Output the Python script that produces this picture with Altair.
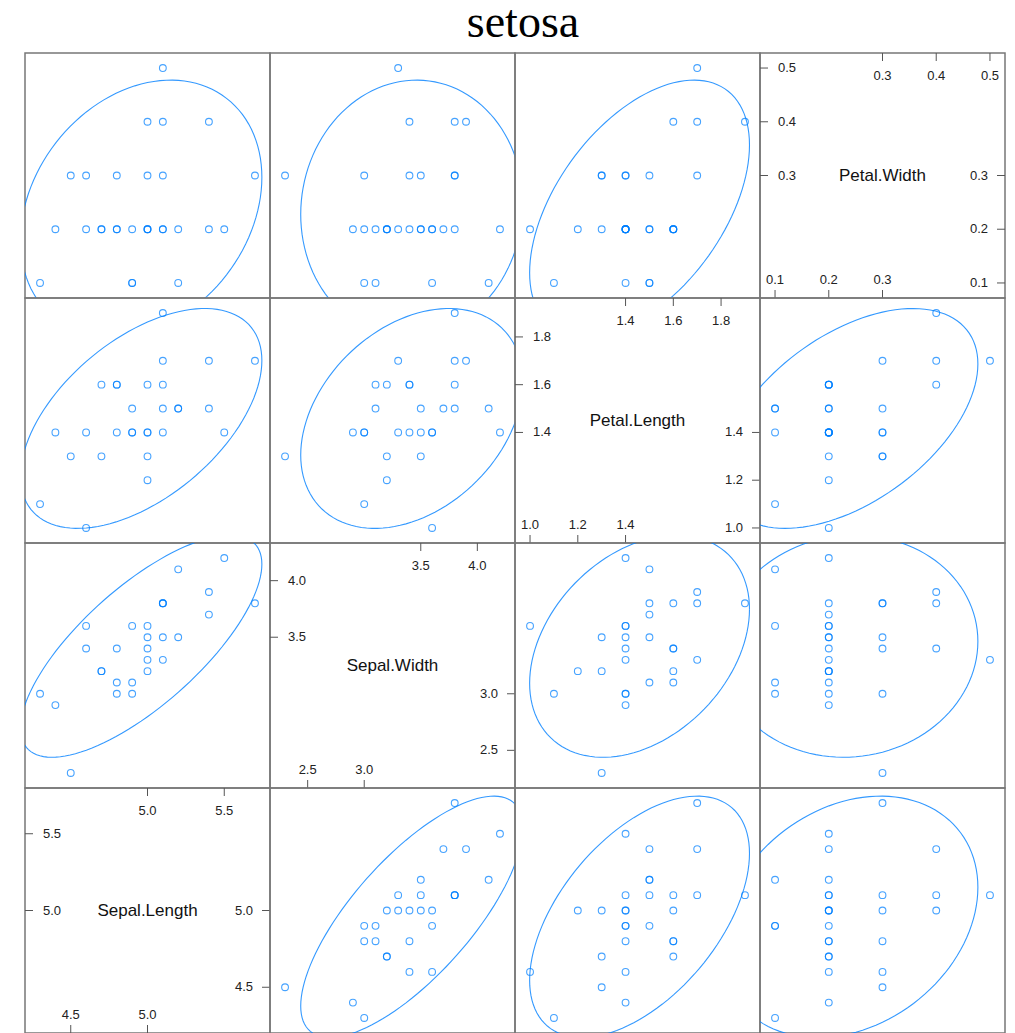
import altair as alt
import pandas as pd
import numpy as np

species = "setosa"
var_names = ["Sepal.Length", "Sepal.Width", "Petal.Length", "Petal.Width"]

sepal_length = [5.1, 4.9, 4.7, 5.0, 5.4, 4.6, 4.4, 4.9, 5.4, 4.8, 4.3, 5.7, 5.1, 4.6, 5.1,
                5.0, 5.2, 4.7, 4.8, 5.2, 5.5, 5.0, 4.9, 5.0, 4.5, 5.1, 4.8, 5.1, 5.0]
sepal_width = [3.5, 3.0, 3.2, 3.6, 3.9, 3.4, 2.9, 3.1, 3.7, 3.4, 3.0, 3.8, 3.8, 3.6, 3.3,
               3.4, 3.5, 3.2, 3.1, 4.1, 4.2, 3.2, 3.6, 3.5, 2.3, 3.8, 3.0, 3.8, 3.3]
petal_length = [1.4, 1.4, 1.3, 1.4, 1.7, 1.4, 1.4, 1.5, 1.5, 1.6, 1.1, 1.7, 1.5, 1.0, 1.7,
                1.6, 1.5, 1.6, 1.6, 1.5, 1.4, 1.2, 1.4, 1.3, 1.3, 1.9, 1.4, 1.6, 1.4]
petal_width = [0.2, 0.2, 0.2, 0.2, 0.4, 0.3, 0.2, 0.1, 0.2, 0.2, 0.1, 0.3, 0.3, 0.2, 0.5,
               0.4, 0.2, 0.2, 0.2, 0.1, 0.2, 0.2, 0.1, 0.3, 0.3, 0.4, 0.3, 0.2, 0.2]

# diagonal tick values: upper ones on left/top, lower ones on right/bottom
ticks_upper = {"Sepal.Length": [5.0, 5.5], "Sepal.Width": [3.5, 4.0],
               "Petal.Length": [1.4, 1.6, 1.8], "Petal.Width": [0.3, 0.4, 0.5]}
ticks_lower = {"Sepal.Length": [4.5, 5.0], "Sepal.Width": [2.5, 3.0],
               "Petal.Length": [1.0, 1.2, 1.4], "Petal.Width": [0.1, 0.2, 0.3]}

cols = {"Sepal.Length": sepal_length, "Sepal.Width": sepal_width,
        "Petal.Length": petal_length, "Petal.Width": petal_width}

W = H = 245
BLUE = "#0080ff"
GRAY = "#555555"
LEVEL = 0.95
R = np.sqrt(-2 * np.log(1 - LEVEL))
ANG = np.linspace(0, 2 * np.pi, 121)


def dom(v):
    a = np.array(cols[v])
    lo, hi = a.min(), a.max()
    r = hi - lo
    return [float(lo - 0.07 * r), float(hi + 0.07 * r)]


def scale(v):
    return alt.Scale(domain=dom(v), nice=False, zero=False)


def ellipse(xv, yv):
    X = np.array(cols[xv])
    Y = np.array(cols[yv])
    cov = np.cov(X, Y)
    L = np.linalg.cholesky(cov)
    circ = np.vstack([np.cos(ANG), np.sin(ANG)])
    pts = np.array([X.mean(), Y.mean()])[:, None] + R * (L @ circ)
    return pd.DataFrame({"x": pts[0], "y": pts[1], "k": np.arange(len(ANG))})


def off_panel(xv, yv):
    sx, sy = scale(xv), scale(yv)
    df = pd.DataFrame({"x": cols[xv], "y": cols[yv]})
    pts = alt.Chart(df).mark_point(
        shape="circle", filled=False, size=46, color=BLUE, strokeWidth=1.1, opacity=0.72
    ).encode(x=alt.X("x:Q", scale=sx, axis=None), y=alt.Y("y:Q", scale=sy, axis=None))
    ell = alt.Chart(ellipse(xv, yv)).mark_line(
        color=BLUE, strokeWidth=1.1, clip=True, opacity=0.8
    ).encode(x=alt.X("x:Q", scale=sx, axis=None), y=alt.Y("y:Q", scale=sy, axis=None),
             order="k:Q")
    return alt.layer(ell, pts).properties(width=W, height=H)


def diag_panel(v):
    s = scale(v)
    up = pd.DataFrame({"v": ticks_upper[v], "lab": [f"{t:.1f}" for t in ticks_upper[v]]})
    lo = pd.DataFrame({"v": ticks_lower[v], "lab": [f"{t:.1f}" for t in ticks_lower[v]]})
    tfont = dict(font="Liberation Sans", fontSize=13, color="#222222")
    name = alt.Chart(pd.DataFrame({"n": [v]})).mark_text(
        font="Liberation Sans", fontSize=17, color="#111111"
    ).encode(text="n:N", x=alt.value(W / 2), y=alt.value(H / 2))
    yu = alt.Y("v:Q", scale=s, axis=None)
    xu = alt.X("v:Q", scale=s, axis=None)
    lt = alt.Chart(up).mark_rule(color=GRAY).encode(y=yu, x=alt.value(0), x2=alt.value(8))
    ll = alt.Chart(up).mark_text(align="left", baseline="middle", **tfont).encode(
        y=yu, x=alt.value(18), text="lab:N")
    tt = alt.Chart(up).mark_rule(color=GRAY).encode(x=xu, y=alt.value(0), y2=alt.value(8))
    tl = alt.Chart(up).mark_text(align="center", baseline="middle", **tfont).encode(
        x=xu, y=alt.value(23), text="lab:N")
    rt = alt.Chart(lo).mark_rule(color=GRAY).encode(y=yu, x=alt.value(W - 8), x2=alt.value(W))
    rl = alt.Chart(lo).mark_text(align="right", baseline="middle", **tfont).encode(
        y=yu, x=alt.value(W - 17), text="lab:N")
    bt = alt.Chart(lo).mark_rule(color=GRAY).encode(x=xu, y=alt.value(H - 8), y2=alt.value(H))
    bl = alt.Chart(lo).mark_text(align="center", baseline="middle", **tfont).encode(
        x=xu, y=alt.value(H - 18), text="lab:N")
    return alt.layer(name, lt, ll, tt, tl, rt, rl, bt, bl).properties(width=W, height=H)


panels = []
for r in range(4):
    yv = var_names[3 - r]
    for c in range(4):
        xv = var_names[c]
        panels.append(diag_panel(xv) if c == 3 - r else off_panel(xv, yv))

chart = alt.concat(
    *panels, columns=4, spacing=0, bounds="flush",
    title=alt.TitleParams(species, font="Liberation Serif", fontSize=46, fontWeight="normal",
                          color="black", anchor="middle", dx=8, offset=5),
).properties(
    padding={"left": 15, "top": -9, "right": 0, "bottom": 0}
).configure_view(stroke="#777777", strokeWidth=1.5).configure_concat(spacing=0)

chart.save("out.html", embed_options={"renderer": "svg", "actions": False})
